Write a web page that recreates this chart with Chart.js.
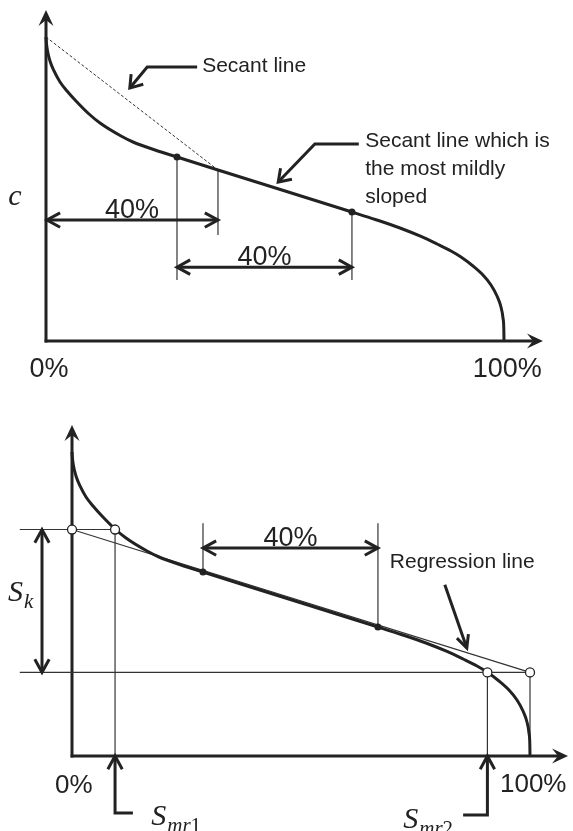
<!DOCTYPE html>
<html>
<head>
<meta charset="utf-8">
<script src="https://cdn.jsdelivr.net/npm/chart.js@4"></script>
<style>
  html, body { margin: 0; padding: 0; background: #fff; }
  #wrap { position: relative; width: 573px; height: 831px; }
  .panel { position: absolute; left: 0; width: 573px; }
  #top { top: 0; height: 415px; }
  #bot { top: 415px; height: 416px; }
</style>
</head>
<body>
<div id="wrap">
  <div class="panel" id="top"><canvas id="cTop"></canvas></div>
  <div class="panel" id="bot"><canvas id="cBot"></canvas></div>
</div>
<script>
// ============================================================
// Concentration curve c vs. cumulative share (0% .. 100%)
// values (relative units)
// ============================================================

const CURVE_X = [0, 0.087, 0.33, 0.87, 1.75, 3.06, 4.59, 6.55, 9.39, 11.79, 16.38, 19.0, 23.8, 28.6,
  37.55, 66.81, 72.05, 77.29, 81.88, 85.37, 88.43, 90.61, 93.23, 95.41, 97.16, 98.47, 99.34, 99.78, 99.96, 100];
const CURVE_Y = [100, 98.03, 95.39, 92.11, 88.82, 85.2, 82.24, 78.95, 74.67, 71.71, 67.43, 65.46, 62.83, 60.53,
  56.25, 42.43, 39.9, 37.17, 34.38, 31.91, 29.61, 27.63, 24.67, 21.71, 18.42, 14.8, 11.18, 7.57, 3.95, 0];

// end points of the most mildly sloped 40% secant
const DOT_X = [28.6, 66.8];
const DOT_Y = [60.53, 42.43];

// steeper secant starting at 0%
const SECANT_X = [0, 37.55];
const SECANT_Y = [100, 56.25];

// regression line through the flat part
const REG_X = [0, 100];
const REG_Y = [74.5, 27.5];

// S_mr1 / S_mr2 positions
const SMR_X = [9.4, 90.7];

const AXIS_LABELS = ['0%', '100%'];
const WINDOW_LABEL = '40%';

const INK = '#222';
const SANS = '"Liberation Sans", Arial, sans-serif';
const SERIF = '"Liberation Serif", "Times New Roman", serif';

function pts(xs, ys) { return xs.map((x, i) => ({ x, y: ys[i] })); }

// ---------- drawing helpers ----------
function P(chart, x, y) {
  return [chart.scales.x.getPixelForValue(x), chart.scales.y.getPixelForValue(y)];
}

function seg(ctx, pts, w) {
  ctx.lineWidth = w;
  ctx.beginPath();
  ctx.moveTo(pts[0][0], pts[0][1]);
  for (let i = 1; i < pts.length; i++) ctx.lineTo(pts[i][0], pts[i][1]);
  ctx.stroke();
}

// open "V" arrow head at tip, coming from 'from'
function vHead(ctx, tip, from, len = 15, half = 0.55, w = 3) {
  const a = Math.atan2(from[1] - tip[1], from[0] - tip[0]);
  ctx.lineWidth = w;
  ctx.beginPath();
  ctx.moveTo(tip[0] + len * Math.cos(a + half), tip[1] + len * Math.sin(a + half));
  ctx.lineTo(tip[0], tip[1]);
  ctx.lineTo(tip[0] + len * Math.cos(a - half), tip[1] + len * Math.sin(a - half));
  ctx.stroke();
}

// filled axis arrow
function axisArrow(ctx, from, tip) {
  const a = Math.atan2(tip[1] - from[1], tip[0] - from[0]);
  const q = (f, s) => [tip[0] + f * Math.cos(a) - s * Math.sin(a), tip[1] + f * Math.sin(a) + s * Math.cos(a)];
  seg(ctx, [from, q(-10, 0)], 3);
  ctx.beginPath();
  let p = q(0, 0); ctx.moveTo(p[0], p[1]);
  p = q(-16, 7.5); ctx.lineTo(p[0], p[1]);
  p = q(-10, 0); ctx.lineTo(p[0], p[1]);
  p = q(-16, -7.5); ctx.lineTo(p[0], p[1]);
  ctx.closePath();
  ctx.fill();
}

function dblArrow(ctx, a, b, w = 3) {
  seg(ctx, [a, b], w);
  vHead(ctx, a, b, 15, 0.5, w);
  vHead(ctx, b, a, 15, 0.5, w);
}

function text(ctx, s, p, size, align = 'center', base = 'alphabetic') {
  ctx.font = size + 'px ' + SANS;
  ctx.textAlign = align;
  ctx.textBaseline = base;
  ctx.fillText(s, p[0], p[1]);
}

// italic math symbol with subscript, e.g. S_mr1
function mathSym(ctx, main, sub, subUpright, p, align) {
  ctx.textBaseline = 'alphabetic';
  ctx.textAlign = 'left';
  ctx.font = 'italic 30px ' + SERIF;
  const wMain = ctx.measureText(main).width;
  ctx.font = 'italic 21px ' + SERIF;
  const wSub = ctx.measureText(sub).width;
  ctx.font = '21px ' + SERIF;
  const wUp = subUpright ? ctx.measureText(subUpright).width : 0;
  const total = wMain + 1 + wSub + wUp;
  let x = align === 'right' ? p[0] - total : align === 'center' ? p[0] - total / 2 : p[0];
  ctx.font = 'italic 30px ' + SERIF;
  ctx.fillText(main, x, p[1]);
  x += wMain + 1;
  ctx.font = 'italic 21px ' + SERIF;
  ctx.fillText(sub, x, p[1] + 7);
  x += wSub;
  if (subUpright) {
    ctx.font = '21px ' + SERIF;
    ctx.fillText(subUpright, x, p[1] + 7);
  }
}

function baseOptions(padding, extraPlugin) {
  return {
    responsive: true,
    maintainAspectRatio: false,
    animation: false,
    layout: { padding },
    plugins: { legend: { display: false }, tooltip: { enabled: false } },
    scales: {
      x: { type: 'linear', display: false, min: 0, max: 100 },
      y: { type: 'linear', display: false, min: 0, max: 100 }
    }
  };
}

function curveDataset() {
  return {
    data: pts(CURVE_X, CURVE_Y),
    showLine: true,
    borderColor: INK,
    borderWidth: 3,
    pointRadius: 0,
    cubicInterpolationMode: 'monotone',
    clip: false,
    order: 3
  };
}

function dotsDataset() {
  return {
    data: pts(DOT_X, DOT_Y),
    showLine: false,
    pointRadius: 3.5,
    pointBackgroundColor: INK,
    pointBorderColor: INK,
    pointBorderWidth: 0,
    clip: false,
    order: 0
  };
}

// ============================================================
// TOP PANEL
// ============================================================
const topAnno = {
  id: 'topAnno',
  beforeDatasetsDraw(chart) {
    const ctx = chart.ctx;
    ctx.save();
    ctx.strokeStyle = INK; ctx.fillStyle = INK;
    ctx.lineCap = 'butt'; ctx.lineJoin = 'miter';
    // axes
    axisArrow(ctx, P(chart, 0, -0.5), P(chart, 0, 108.9));
    axisArrow(ctx, P(chart, -0.3, 0), P(chart, 108.5, 0));
    // thin guides
    ctx.strokeStyle = '#333';
    seg(ctx, [P(chart, DOT_X[0], DOT_Y[0]), P(chart, DOT_X[0], 20.1)], 1.2);
    seg(ctx, [P(chart, SECANT_X[1], SECANT_Y[1]), P(chart, SECANT_X[1], 34.9)], 1.2);
    seg(ctx, [P(chart, DOT_X[1], DOT_Y[1]), P(chart, DOT_X[1], 20.1)], 1.2);
    ctx.restore();
  },
  afterDatasetsDraw(chart) {
    const ctx = chart.ctx;
    ctx.save();
    ctx.strokeStyle = INK; ctx.fillStyle = INK;
    ctx.lineCap = 'butt'; ctx.lineJoin = 'miter';

    // 40% windows
    dblArrow(ctx, P(chart, 0.2, 39.8), P(chart, SECANT_X[1], 39.8));
    text(ctx, WINDOW_LABEL, P(chart, SECANT_X[1] / 2, 40.6), 27);
    dblArrow(ctx, P(chart, DOT_X[0], 24.3), P(chart, DOT_X[1], 24.3));
    text(ctx, WINDOW_LABEL, P(chart, (DOT_X[0] + DOT_X[1]) / 2, 25.0), 27);

    // callout: secant line
    text(ctx, 'Secant line', P(chart, 34.1, 88.5), 21, 'left');
    const l1 = [P(chart, 33.0, 90.1), P(chart, 22.1, 90.1), P(chart, 18.3, 83.2)];
    seg(ctx, l1, 3);
    vHead(ctx, l1[2], l1[1], 14, 0.6, 3);

    // callout: mildest secant
    text(ctx, 'Secant line which is', P(chart, 69.7, 63.8), 21, 'left');
    text(ctx, 'the most mildly', P(chart, 69.7, 54.6), 21, 'left');
    text(ctx, 'sloped', P(chart, 69.7, 45.4), 21, 'left');
    const l2 = [P(chart, 68.3, 64.8), P(chart, 58.7, 64.8), P(chart, 50.7, 52.3)];
    seg(ctx, l2, 3);
    vHead(ctx, l2[2], l2[1], 14, 0.6, 3);

    // axis labels
    ctx.font = 'italic 30px ' + SERIF;
    ctx.textAlign = 'center'; ctx.textBaseline = 'middle';
    const cp = P(chart, -6.8, 47.4);
    ctx.fillText('c', cp[0], cp[1]);
    text(ctx, AXIS_LABELS[0], P(chart, 0.66, -9.5), 27, 'center', 'middle');
    text(ctx, AXIS_LABELS[1], P(chart, 100.7, -9.5), 27, 'center', 'middle');
    ctx.restore();
  }
};

new Chart(document.getElementById('cTop'), {
  type: 'scatter',
  data: {
    datasets: [
      dotsDataset(),
      curveDataset(),
      {
        data: pts(SECANT_X, SECANT_Y),
        showLine: true,
        borderColor: '#333',
        borderWidth: 1,
        borderDash: [3, 2],
        pointRadius: 0,
        clip: false,
        order: 4
      }
    ]
  },
  options: baseOptions({ left: 46, right: 69, top: 37, bottom: 74 }),
  plugins: [topAnno]
});

// ============================================================
// BOTTOM PANEL
// ============================================================
const botAnno = {
  id: 'botAnno',
  beforeDatasetsDraw(chart) {
    const ctx = chart.ctx;
    ctx.save();
    ctx.strokeStyle = INK; ctx.fillStyle = INK;
    ctx.lineCap = 'butt'; ctx.lineJoin = 'miter';
    axisArrow(ctx, P(chart, 0, -0.5), P(chart, 0, 108.9));
    axisArrow(ctx, P(chart, -0.3, 0), P(chart, 108.3, 0));

    ctx.strokeStyle = '#333';
    // level lines
    seg(ctx, [P(chart, -11.4, REG_Y[0]), P(chart, SMR_X[0], REG_Y[0])], 1.2);
    seg(ctx, [P(chart, -11.4, REG_Y[1]), P(chart, REG_X[1], REG_Y[1])], 1.2);
    // verticals
    seg(ctx, [P(chart, SMR_X[0], REG_Y[0]), P(chart, SMR_X[0], 0)], 1.2);
    seg(ctx, [P(chart, SMR_X[1], REG_Y[1]), P(chart, SMR_X[1], 0)], 1.2);
    seg(ctx, [P(chart, REG_X[1], REG_Y[1]), P(chart, REG_X[1], 0)], 1.2);
    seg(ctx, [P(chart, DOT_X[0], DOT_Y[0]), P(chart, DOT_X[0], 76.6)], 1.2);
    seg(ctx, [P(chart, DOT_X[1], DOT_Y[1]), P(chart, DOT_X[1], 76.6)], 1.2);
    ctx.restore();
  },
  afterDatasetsDraw(chart) {
    const ctx = chart.ctx;
    ctx.save();
    ctx.strokeStyle = INK; ctx.fillStyle = INK;
    ctx.lineCap = 'butt'; ctx.lineJoin = 'miter';

    // 40% window
    dblArrow(ctx, P(chart, DOT_X[0], 68.4), P(chart, DOT_X[1], 68.4));
    text(ctx, WINDOW_LABEL, P(chart, (DOT_X[0] + DOT_X[1]) / 2, 69.1), 27);

    // S_k span
    dblArrow(ctx, P(chart, -6.55, REG_Y[0]), P(chart, -6.55, REG_Y[1]));
    mathSym(ctx, 'S', 'k', '', P(chart, -11.2, 51.0), 'center');

    // regression callout
    text(ctx, 'Regression line', P(chart, 85.2, 61.8), 21, 'center');
    const r = [P(chart, 81.4, 56.3), P(chart, 86.2, 35.5)];
    seg(ctx, r, 3);
    vHead(ctx, r[1], r[0], 14, 0.45, 3);

    // S_mr markers
    const m1 = [P(chart, SMR_X[0], 0), P(chart, SMR_X[0], -18.75), P(chart, 13.3, -18.75)];
    seg(ctx, m1, 3);
    vHead(ctx, m1[0], m1[1], 15, 0.5, 3);
    mathSym(ctx, 'S', 'mr', '1', P(chart, 17.3, -22.8), 'left');

    const m2 = [P(chart, SMR_X[1], 0), P(chart, SMR_X[1], -19.4), P(chart, 85.4, -19.4)];
    seg(ctx, m2, 3);
    vHead(ctx, m2[0], m2[1], 15, 0.5, 3);
    mathSym(ctx, 'S', 'mr', '2', P(chart, 83.2, -23.6), 'right');

    text(ctx, AXIS_LABELS[0], P(chart, 0.4, -9.9), 26, 'center', 'middle');
    text(ctx, AXIS_LABELS[1], P(chart, 100.7, -9.6), 26, 'center', 'middle');
    ctx.restore();
  }
};

new Chart(document.getElementById('cBot'), {
  type: 'scatter',
  data: {
    datasets: [
      {
        data: [{ x: REG_X[0], y: REG_Y[0] }, { x: SMR_X[0], y: REG_Y[0] },
               { x: SMR_X[1], y: REG_Y[1] }, { x: REG_X[1], y: REG_Y[1] }],
        showLine: false,
        pointRadius: 4.5,
        pointBackgroundColor: '#fff',
        pointBorderColor: INK,
        pointBorderWidth: 1.3,
        clip: false,
        order: 0
      },
      dotsDataset(),
      curveDataset(),
      {
        data: pts(REG_X, REG_Y),
        showLine: true,
        borderColor: '#333',
        borderWidth: 1.2,
        pointRadius: 0,
        clip: false,
        order: 4
      }
    ]
  },
  options: baseOptions({ left: 72, right: 43, top: 37, bottom: 75 }),
  plugins: [botAnno]
});
</script>
</body>
</html>
